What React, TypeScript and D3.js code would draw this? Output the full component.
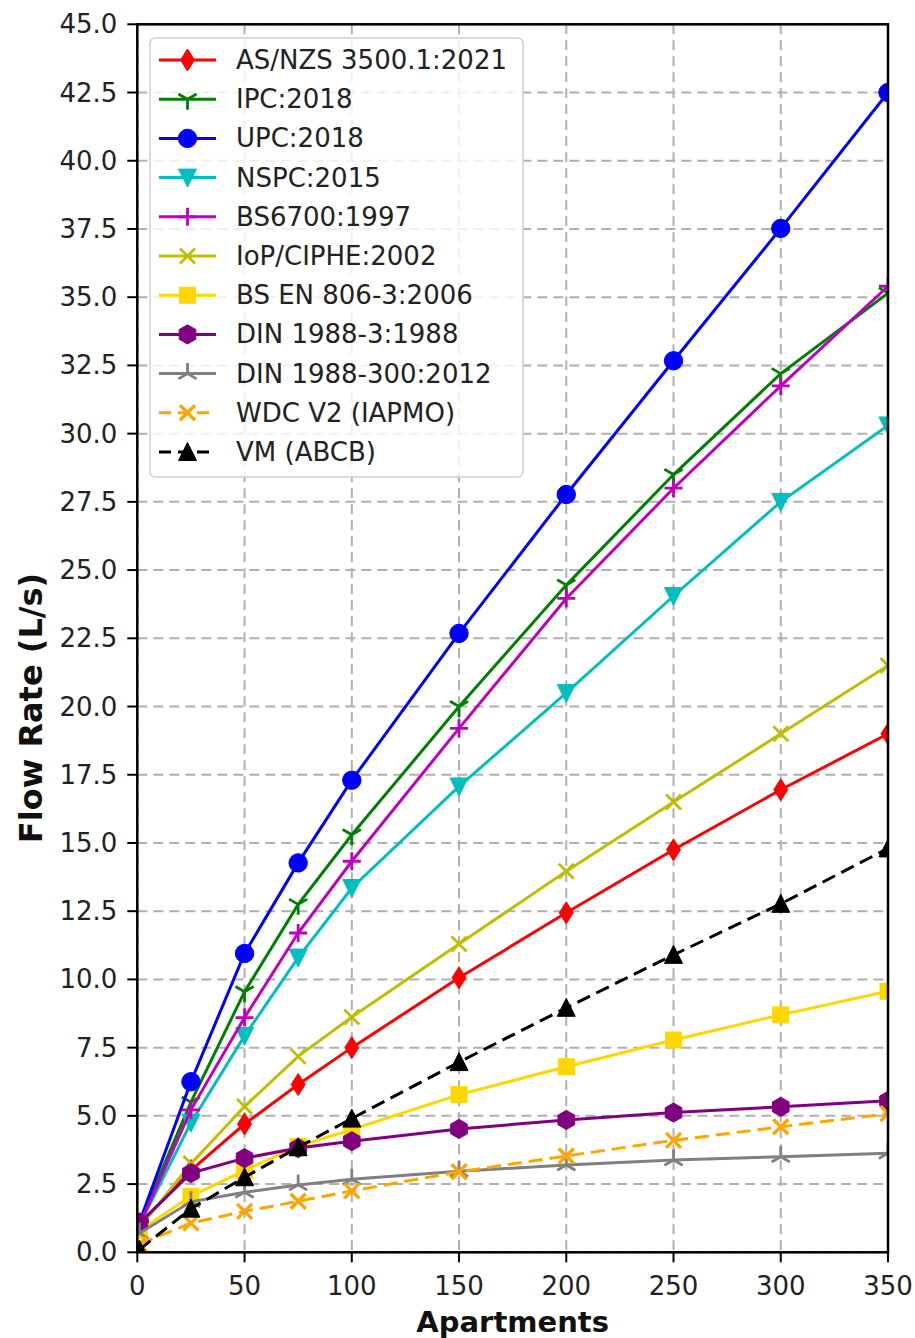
import React from "react";
import * as d3 from "d3";

const xs = [1, 25, 50, 75, 100, 150, 200, 250, 300, 350];

const asnzs = [1.0, 3.0, 4.7, 6.15, 7.5, 10.06, 12.44, 14.75, 16.95, 19.0];
const ipc = [1.1, 5.5, 9.55, 12.75, 15.3, 20.0, 24.45, 28.5, 32.2, 35.15];
const upc = [1.1, 6.25, 10.95, 14.27, 17.3, 22.68, 27.77, 32.67, 37.52, 42.5];
const nspc = [1.0, 4.75, 7.93, 10.8, 13.35, 17.07, 20.5, 24.05, 27.5, 30.3];
const bs6700 = [1.0, 5.22, 8.6, 11.7, 14.33, 19.2, 23.96, 28.0, 31.75, 35.4];
const iop = [0.9, 3.25, 5.34, 7.18, 8.62, 11.3, 13.96, 16.5, 19.0, 21.5];
const bsen = [0.8, 2.05, 3.0, 3.88, 4.5, 5.78, 6.8, 7.78, 8.7, 9.57];
const din3 = [1.07, 2.9, 3.45, 3.82, 4.07, 4.52, 4.85, 5.12, 5.33, 5.55];
const din300 = [0.7, 1.85, 2.2, 2.47, 2.68, 2.97, 3.2, 3.38, 3.5, 3.63];
const wdc = [0.3, 1.07, 1.5, 1.87, 2.25, 2.95, 3.53, 4.1, 4.6, 5.08];
const vm = [0.1, 1.6, 2.75, 3.85, 4.9, 6.97, 8.96, 10.9, 12.77, 14.8];

const seriesNames = [
  "AS/NZS 3500.1:2021",
  "IPC:2018",
  "UPC:2018",
  "NSPC:2015",
  "BS6700:1997",
  "IoP/CIPHE:2002",
  "BS EN 806-3:2006",
  "DIN 1988-3:1988",
  "DIN 1988-300:2012",
  "WDC V2 (IAPMO)",
  "VM (ABCB)",
];
const seriesValues = [asnzs, ipc, upc, nspc, bs6700, iop, bsen, din3, din300, wdc, vm];
const seriesColors = [
  "#ff0000",
  "#008000",
  "#0000ff",
  "#00bfbf",
  "#bf00bf",
  "#bfbf00",
  "#ffd700",
  "#800080",
  "#808080",
  "#ffa500",
  "#000000",
];
const seriesMarkers = ["d", "1", "o", "v", "+", "x", "s", "h", "2", "X", "^"];
const seriesDashed = [false, false, false, false, false, false, false, false, false, true, true];

const xTicks = [0, 50, 100, 150, 200, 250, 300, 350];
const yTicks = d3.range(0, 45.01, 2.5);

const W = 915;
const H = 1338;
const L = 137.3;
const R = 888;
const T = 24.3;
const B = 1252.3;

const FONT = "'DejaVu Sans', sans-serif";

function Marker({ type, color, x, y }: { type: string; color: string; x: number; y: number }) {
  const t = `translate(${x},${y})`;
  switch (type) {
    case "d":
      return <path transform={t} d="M0,-11L7,0L0,11L-7,0Z" fill={color} stroke={color} strokeWidth={1} />;
    case "o":
      return <circle cx={x} cy={y} r={9.2} fill={color} stroke={color} strokeWidth={1} />;
    case "v":
      return <path transform={t} d="M0,9.5L-9,-8.5L9,-8.5Z" fill={color} stroke={color} strokeWidth={1} />;
    case "^":
      return <path transform={t} d="M0,-9.5L-9,8.5L9,8.5Z" fill={color} stroke={color} strokeWidth={1} />;
    case "s":
      return <rect x={x - 8} y={y - 8} width={16} height={16} fill={color} stroke={color} strokeWidth={1} />;
    case "h": {
      const pts = d3.range(6).map((i) => {
        const a = (Math.PI / 3) * i - Math.PI / 2;
        return [Math.cos(a) * 9.6, Math.sin(a) * 9.6];
      });
      return <path transform={t} d={"M" + pts.map((p) => p.join(",")).join("L") + "Z"} fill={color} stroke={color} strokeWidth={1} />;
    }
    case "+":
      return <path transform={t} d="M-9,0H9M0,-9V9" stroke={color} strokeWidth={2.8} fill="none" />;
    case "x":
      return <path transform={t} d="M-7.5,-7.5L7.5,7.5M-7.5,7.5L7.5,-7.5" stroke={color} strokeWidth={2.8} fill="none" />;
    case "X":
      return <path transform={t} d="M-7.5,-7.5L7.5,7.5M-7.5,7.5L7.5,-7.5" stroke={color} strokeWidth={3.4} fill="none" />;
    case "1": {
      const r = 10.5;
      const s = Math.sin(Math.PI / 3) * r;
      const c = Math.cos(Math.PI / 3) * r;
      return <path transform={t} d={`M0,0V${r}M0,0L${-s},${-c}M0,0L${s},${-c}`} stroke={color} strokeWidth={2.8} fill="none" />;
    }
    case "2": {
      const r = 10.5;
      const s = Math.sin(Math.PI / 3) * r;
      const c = Math.cos(Math.PI / 3) * r;
      return <path transform={t} d={`M0,0V${-r}M0,0L${-s},${c}M0,0L${s},${c}`} stroke={color} strokeWidth={2.8} fill="none" />;
    }
    default:
      return null;
  }
}

export default function App() {
  const x = d3.scaleLinear().domain([0, 350]).range([L, R]);
  const y = d3.scaleLinear().domain([0, 45]).range([B, T]);
  const line = d3
    .line<number>()
    .x((_, i) => x(xs[i]))
    .y((v) => y(v));

  const legX = 150;
  const legY = 38;
  const legW = 373;
  const legH = 439;
  const rowY0 = 60;
  const rowStep = 39.2;

  return (
    <svg
      width={W}
      height={H}
      style={{ position: "absolute", left: 0, top: 0, background: "#fff" }}
      fontFamily={FONT}
    >
      <defs>
        <clipPath id="plotclip">
          <rect x={L} y={T} width={R - L} height={B - T} />
        </clipPath>
      </defs>
      <rect x={0} y={0} width={W} height={H} fill="#fff" />

      {/* grid */}
      <g stroke="#b0b0b0" strokeWidth={2} strokeDasharray="10,6">
        {xTicks.map((t) => (
          <line key={"gx" + t} x1={x(t)} x2={x(t)} y1={T} y2={B} />
        ))}
        {yTicks.map((t) => (
          <line key={"gy" + t} x1={L} x2={R} y1={y(t)} y2={y(t)} />
        ))}
      </g>

      {/* series */}
      <g clipPath="url(#plotclip)">
        {seriesValues.map((vals, si) => (
          <g key={"s" + si}>
            <path
              d={line(vals) || ""}
              fill="none"
              stroke={seriesColors[si]}
              strokeWidth={3}
              strokeDasharray={seriesDashed[si] ? "14,7" : undefined}
            />
            {vals.map((v, i) => (
              <Marker key={i} type={seriesMarkers[si]} color={seriesColors[si]} x={x(xs[i])} y={y(v)} />
            ))}
          </g>
        ))}
      </g>

      {/* spines */}
      <rect x={L} y={T} width={R - L} height={B - T} fill="none" stroke="#000" strokeWidth={2.5} />

      {/* y ticks */}
      <g>
        {yTicks.map((t) => (
          <g key={"yt" + t}>
            <line x1={L - 10} x2={L} y1={y(t)} y2={y(t)} stroke="#000" strokeWidth={2} />
            <text x={L - 20} y={y(t)} textAnchor="end" dominantBaseline="central" fontSize={26} fill="#222">
              {t.toFixed(1)}
            </text>
          </g>
        ))}
      </g>
      {/* x ticks */}
      <g>
        {xTicks.map((t) => (
          <g key={"xt" + t}>
            <line x1={x(t)} x2={x(t)} y1={B} y2={B + 10} stroke="#000" strokeWidth={2} />
            <text x={x(t)} y={B + 43} textAnchor="middle" fontSize={26} fill="#222">
              {t}
            </text>
          </g>
        ))}
      </g>

      <text x={(L + R) / 2} y={1332} textAnchor="middle" fontSize={29} fontWeight="bold" fill="#111">
        Apartments
      </text>
      <text
        transform={`translate(42,708) rotate(-90)`}
        textAnchor="middle"
        fontSize={32}
        fontWeight="bold"
        fill="#111"
      >
        Flow Rate (L/s)
      </text>

      {/* legend */}
      <rect x={legX} y={legY} width={legW} height={legH} rx={5} fill="#fff" fillOpacity={0.8} stroke="#d0d0d0" strokeWidth={1.5} />
      {seriesNames.map((name, i) => {
        const cy = rowY0 + i * rowStep;
        return (
          <g key={"lg" + i}>
            <line
              x1={159}
              x2={216}
              y1={cy}
              y2={cy}
              stroke={seriesColors[i]}
              strokeWidth={3}
              strokeDasharray={seriesDashed[i] ? "12,7" : undefined}
            />
            <Marker type={seriesMarkers[i]} color={seriesColors[i]} x={187.5} y={cy} />
            <text x={236} y={cy} dominantBaseline="central" fontSize={26} fill="#222">
              {name}
            </text>
          </g>
        );
      })}
    </svg>
  );
}
